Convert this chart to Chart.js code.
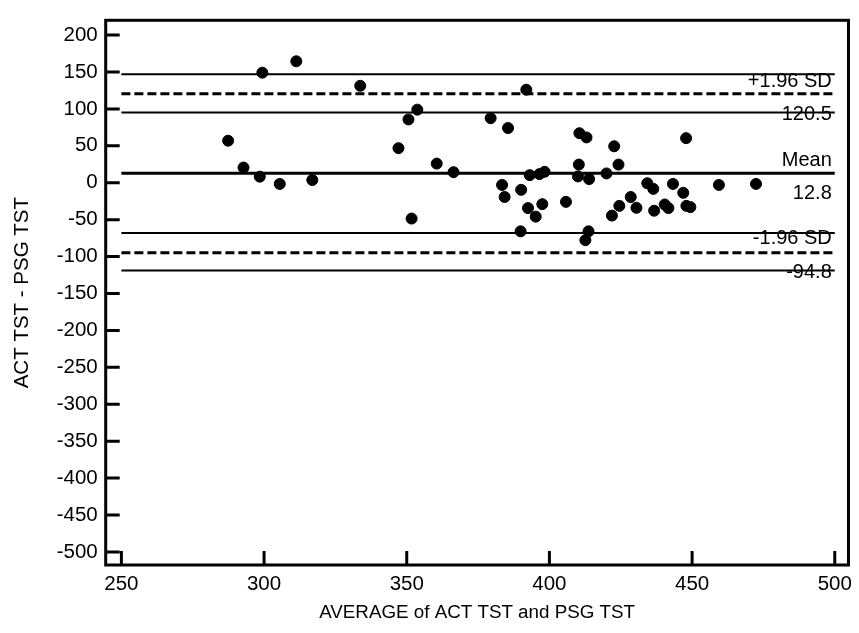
<!DOCTYPE html>
<html>
<head>
<meta charset="utf-8">
<script src="https://cdn.jsdelivr.net/npm/chart.js@4/dist/chart.umd.min.js"></script>
<style>
  body { margin: 0; background: #fff; }
  canvas { display: block; }
</style>
</head>
<body>
<canvas id="myChart" width="859" height="633"></canvas>
<script>
// averages (x) and differences (y)
const avgTST = [287.4, 292.8, 298.5, 299.4, 305.5, 311.3, 316.9, 333.7, 347.1, 350.6,
  351.7, 353.7, 360.5, 366.4, 379.4, 383.4, 384.3, 385.5, 389.9, 390.1,
  391.9, 392.5, 393.1, 395.2, 396.5, 397.5, 398.3, 405.8, 410.0, 410.3,
  410.5, 412.6, 413.0, 413.7, 413.9, 420.0, 421.9, 422.7, 424.2, 424.5,
  428.5, 430.5, 434.3, 436.4, 436.7, 440.4, 441.7, 443.3, 446.9, 447.9,
  448.0, 449.4, 459.4, 472.4];
const diffTST = [56.9, 20.6, 8.2, 149.1, -1.6, 164.5, 3.7, 131.3, 46.8, 85.7,
  -48.5, 99.0, 25.9, 14.3, 87.4, -3.0, -19.3, 74.1, -65.8, -9.6,
  126.0, -34.3, 10.3, -45.9, 11.7, -29.0, 14.8, -25.9, 8.6, 24.6,
  67.1, -77.8, 61.4, -65.8, 5.0, 12.6, -44.5, 49.4, 24.6, -31.3,
  -19.3, -33.9, -0.7, -8.3, -37.9, -29.5, -34.3, -1.6, -13.6, 60.4,
  -31.3, -33.0, -3.0, -1.6];

const meanDiff = 12.8;
const upperLoA = 120.5;
const lowerLoA = -94.8;
const upperCI = [95.2, 146.8];
const lowerCI = [-119.0, -68.1];
const lineSpan = [250, 500];

const xTicks = [250, 300, 350, 400, 450, 500];
const yTicks = [200, 150, 100, 50, 0, -50, -100, -150, -200, -250, -300, -350, -400, -450, -500];

const FONT = 'Arial, "Liberation Sans", sans-serif';

function hLine(y, width, dash) {
  return {
    type: 'line',
    data: lineSpan.map(x => ({ x: x, y: y })),
    borderColor: '#000',
    borderWidth: width,
    borderDash: dash || [],
    pointRadius: 0,
    fill: false,
    order: 2
  };
}

// frame, inward tick marks and the limit labels
const framePlugin = {
  id: 'frame',
  afterDraw(chart) {
    const ctx = chart.ctx;
    const a = chart.chartArea;
    const xs = chart.scales.x, ys = chart.scales.y;
    ctx.save();
    ctx.strokeStyle = '#000';
    ctx.lineWidth = 3;
    ctx.strokeRect(a.left, a.top, a.right - a.left, a.bottom - a.top);

    ctx.beginPath();
    xs.ticks.forEach(t => {
      const px = xs.getPixelForValue(t.value);
      ctx.moveTo(px, a.bottom);
      ctx.lineTo(px, a.bottom - 14);
    });
    ys.ticks.forEach(t => {
      const py = ys.getPixelForValue(t.value);
      ctx.moveTo(a.left, py);
      ctx.lineTo(a.left + 14, py);
    });
    ctx.stroke();

    ctx.fillStyle = '#000';
    ctx.font = '20px ' + FONT;
    ctx.textAlign = 'right';
    ctx.textBaseline = 'alphabetic';
    const tx = xs.getPixelForValue(lineSpan[1]) - 3;
    const yu = ys.getPixelForValue(upperLoA);
    const ym = ys.getPixelForValue(meanDiff);
    const yl = ys.getPixelForValue(lowerLoA);
    ctx.fillText('+1.96 SD', tx, yu - 7);
    ctx.fillText(upperLoA.toFixed(1), tx, yu + 26);
    ctx.fillText('Mean', tx, ym - 7);
    ctx.fillText(meanDiff.toFixed(1), tx, ym + 26);
    ctx.fillText('-1.96 SD', tx, yl - 9);
    ctx.fillText(lowerLoA.toFixed(1), tx, yl + 25);
    ctx.restore();
  }
};

const ctx = document.getElementById('myChart');
new Chart(ctx, {
  type: 'scatter',
  data: {
    datasets: [
      {
        data: avgTST.map((x, i) => ({ x: x, y: diffTST[i] })),
        backgroundColor: '#000',
        borderColor: '#000',
        pointRadius: 5.5,
        pointHoverRadius: 5.5,
        order: 1
      },
      hLine(upperCI[1], 2),
      hLine(upperLoA, 3, [9, 4]),
      hLine(upperCI[0], 2),
      hLine(meanDiff, 3),
      hLine(lowerCI[1], 2),
      hLine(lowerLoA, 3, [9, 4]),
      hLine(lowerCI[0], 2)
    ]
  },
  options: {
    responsive: false,
    animation: false,
    layout: { padding: { top: 10, right: 7, left: 0, bottom: 0 } },
    plugins: {
      legend: { display: false },
      tooltip: { enabled: false }
    },
    scales: {
      x: {
        type: 'linear',
        min: 244.5,
        max: 504.8,
        afterBuildTicks: s => { s.ticks = xTicks.map(v => ({ value: v })); },
        afterFit: s => { s.height = 68; },
        grid: { display: false, drawTicks: false },
        border: { display: false },
        ticks: { color: '#000', font: { family: FONT, size: 20.5 }, padding: 7, maxRotation: 0 },
        title: {
          display: true,
          text: 'AVERAGE of ACT TST and PSG TST',
          color: '#000',
          font: { family: FONT, size: 18.8 },
          padding: { top: 9, bottom: 9 }
        }
      },
      y: {
        type: 'linear',
        min: -517.7,
        max: 220,
        afterBuildTicks: s => { s.ticks = yTicks.map(v => ({ value: v })); },
        afterFit: s => { s.width = 105.7; },
        grid: { display: false, drawTicks: false },
        border: { display: false },
        ticks: { color: '#000', font: { family: FONT, size: 20.5 }, padding: 8 },
        title: {
          display: true,
          text: 'ACT TST - PSG TST',
          color: '#000',
          font: { family: FONT, size: 20.5 },
          padding: { top: 10, bottom: 10 }
        }
      }
    }
  },
  plugins: [framePlugin]
});
</script>
</body>
</html>
